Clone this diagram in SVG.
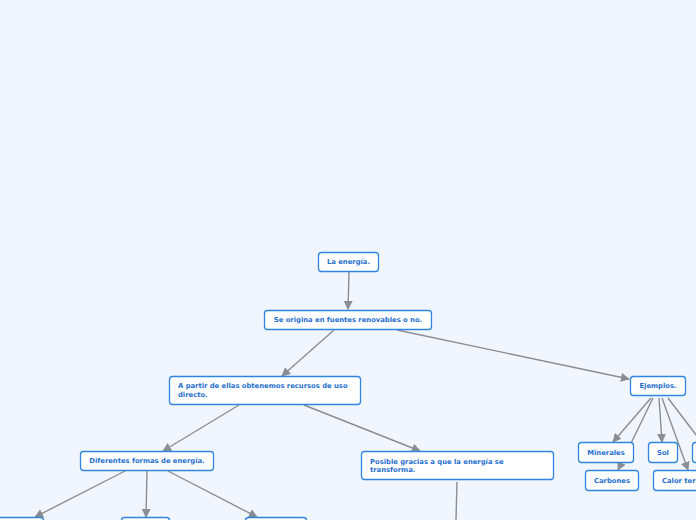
<svg xmlns="http://www.w3.org/2000/svg" width="696" height="520" viewBox="0 0 696 520">
<defs>
<marker id="ah" viewBox="0 0 10 10" refX="9" refY="5" markerWidth="9" markerHeight="9" markerUnits="userSpaceOnUse" orient="auto">
<path d="M0,0 L10,5 L0,10 z" fill="#8a8d93"/>
</marker>
<style>
.n rect{fill:#ffffff;stroke:#2f86e0;stroke-width:1.3}
.n text{font-family:"DejaVu Sans",Verdana,sans-serif;font-weight:bold;font-size:6.8px;fill:#1f6fd0}
.c line{stroke:#8a8d93;stroke-width:1.4;fill:none}
.c line.a{marker-end:url(#ah)}
</style>
</defs>
<rect width="696" height="520" fill="#f1f5fe"/>
<g class="c" id="connectors">
<line class="a" x1="349" y1="272" x2="348" y2="309"/>
<line class="a" x1="334" y1="330" x2="282" y2="376"/>
<line class="a" x1="397" y1="330" x2="629" y2="379"/>
<line class="a" x1="239" y1="405" x2="163" y2="451"/>
<line class="a" x1="304" y1="405" x2="420" y2="451"/>
<line class="a" x1="125" y1="471" x2="35" y2="517"/>
<line class="a" x1="147" y1="471" x2="146" y2="517"/>
<line class="a" x1="168" y1="471" x2="257" y2="517"/>
<line x1="457" y1="482" x2="456" y2="520"/>
<line class="a" x1="651" y1="398" x2="613" y2="442"/>
<line class="a" x1="653" y1="398" x2="618" y2="470"/>
<line class="a" x1="659" y1="398" x2="662" y2="442"/>
<line class="a" x1="662" y1="398" x2="688" y2="470"/>
<line x1="668" y1="398" x2="700" y2="440"/>
</g>
<g class="n" id="n-energia"><rect x="318.5" y="252.5" width="60" height="19" rx="3"/><text x="348.5" y="264" text-anchor="middle">La energía.</text></g>
<g class="n" id="n-origina"><rect x="264.5" y="310.5" width="167" height="19" rx="3"/><text x="348" y="322" text-anchor="middle">Se origina en fuentes renovables o no.</text></g>
<g class="n" id="n-apartir"><rect x="169.5" y="376.5" width="191" height="28" rx="3"/><text x="178" y="388">A partir de ellas obtenemos recursos de uso</text><text x="178" y="397">directo.</text></g>
<g class="n" id="n-diferentes"><rect x="80.5" y="451.5" width="133" height="19" rx="3"/><text x="147" y="463" text-anchor="middle">Diferentes formas de energía.</text></g>
<g class="n" id="n-posible"><rect x="361.5" y="451.5" width="192" height="28" rx="3"/><text x="370" y="463.5">Posible gracias a que la energía se</text><text x="370" y="472">transforma.</text></g>
<g class="n" id="n-ejemplos"><rect x="630.5" y="376.5" width="55" height="19" rx="3"/><text x="658" y="388" text-anchor="middle">Ejemplos.</text></g>
<g class="n" id="n-minerales"><rect x="578.5" y="442.5" width="55" height="20" rx="3"/><text x="606" y="454.5" text-anchor="middle">Minerales</text></g>
<g class="n" id="n-sol"><rect x="648.5" y="442.5" width="29" height="20" rx="3"/><text x="663" y="454.5" text-anchor="middle">Sol</text></g>
<g class="n" id="n-partial"><rect x="692.5" y="442.5" width="40" height="20" rx="3"/></g>
<g class="n" id="n-carbones"><rect x="585.5" y="470.5" width="53" height="20" rx="3"/><text x="612" y="482.5" text-anchor="middle">Carbones</text></g>
<g class="n" id="n-calor"><rect x="653.5" y="470.5" width="80" height="20" rx="3"/><text x="662" y="482.5">Calor terrestre</text></g>
<g class="n" id="n-b1"><rect x="-20.5" y="517.5" width="64" height="20" rx="3"/></g>
<g class="n" id="n-b2"><rect x="121.5" y="517.5" width="48" height="20" rx="3"/></g>
<g class="n" id="n-b3"><rect x="245.5" y="517.5" width="61" height="20" rx="3"/></g>
</svg>
